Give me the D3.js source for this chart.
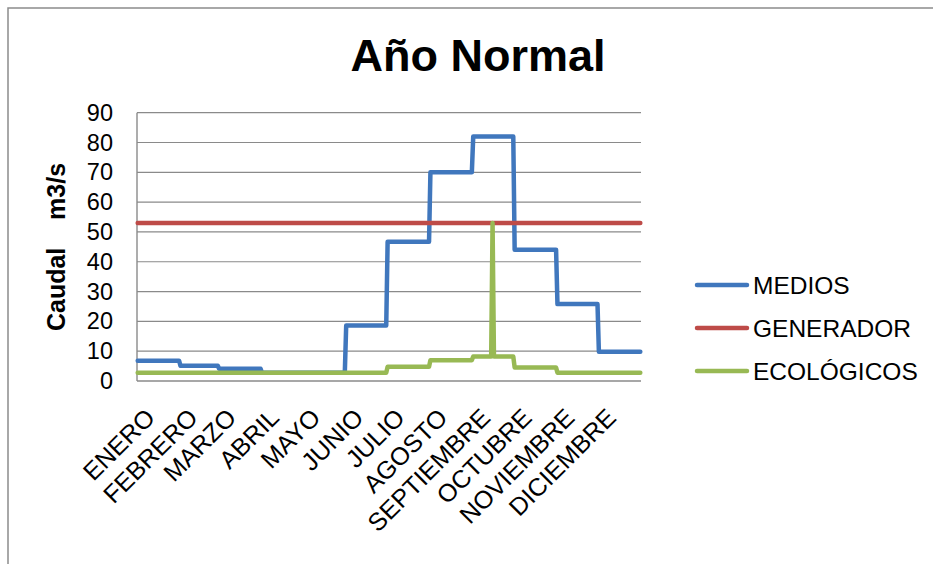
<!DOCTYPE html>
<html>
<head>
<meta charset="utf-8">
<script src="https://cdn.jsdelivr.net/npm/d3@7/dist/d3.min.js"></script>
<style>
  html, body { margin: 0; padding: 0; background: #fff; }
  svg { display: block; font-family: "Liberation Sans", Arial, sans-serif; }
</style>
</head>
<body>
<svg id="chart" width="933" height="564"></svg>
<script>
// Caudales diarios de un año normal (m3/s), agrupados por mes
const meses = ["ENERO", "FEBRERO", "MARZO", "ABRIL", "MAYO", "JUNIO", "JULIO",
  "AGOSTO", "SEPTIEMBRE", "OCTUBRE", "NOVIEMBRE", "DICIEMBRE"];
const diasPorMes = [31, 28, 31, 30, 31, 30, 31, 31, 30, 31, 30, 31];
const caudalMedios = [6.8, 5.1, 4.1, 2.8, 2.8, 18.6, 46.7, 70.0, 82.0, 44.0, 25.8, 9.8];
const caudalGenerador = [53, 53, 53, 53, 53, 53, 53, 53, 53, 53, 53, 53];
const caudalEcologicos = [2.8, 2.8, 2.8, 2.8, 2.8, 2.8, 4.8, 7.0, 8.2, 4.5, 2.8, 2.8];
// Crecida puntual del caudal ecológico (día del año, base 0)
const pulsoEcologico = { dia: 257, caudal: 53 };
const ticksCaudal = [0, 10, 20, 30, 40, 50, 60, 70, 80, 90];

const seriesInfo = [
  { nombre: "MEDIOS", mensual: caudalMedios, color: "#4077bd" },
  { nombre: "GENERADOR", mensual: caudalGenerador, color: "#be4b48" },
  { nombre: "ECOLÓGICOS", mensual: caudalEcologicos, color: "#98b954", pulso: pulsoEcologico }
];

// Valores diarios: cada día toma el caudal de su mes
function aDiario(mensual) {
  const out = [];
  mensual.forEach((v, m) => { for (let k = 0; k < diasPorMes[m]; k++) out.push(v); });
  return out;
}
const totalDias = d3.sum(diasPorMes);
// Primer día de cada mes (base 0)
const inicioMes = diasPorMes.map((d, i) => d3.sum(diasPorMes.slice(0, i)));

const svg = d3.select("#chart");
const plotLeft = 137, plotRight = 641, plotTop = 112.7, plotBottom = 381;

// Marco del área del gráfico
svg.append("path")
  .attr("d", `M8,564 L8,8 L933,8`)
  .attr("fill", "none").attr("stroke", "#8c8c8c").attr("stroke-width", 1.5);

svg.append("text")
  .attr("x", 478).attr("y", 71)
  .attr("text-anchor", "middle")
  .attr("font-size", 45).attr("font-weight", "bold")
  .text("Año Normal");

const x = d3.scaleLinear().domain([0, totalDias]).range([plotLeft, plotRight]);
const y = d3.scaleLinear().domain([0, 90]).range([plotBottom, plotTop]);

// Líneas de división horizontales
svg.append("g").selectAll("line")
  .data(ticksCaudal.filter(t => t > 0))
  .join("line")
  .attr("x1", plotLeft).attr("x2", plotRight)
  .attr("y1", d => y(d)).attr("y2", d => y(d))
  .attr("stroke", "#8a8a8a").attr("stroke-width", 1.2);

// Ejes
svg.append("line").attr("x1", plotLeft).attr("x2", plotLeft).attr("y1", plotTop).attr("y2", plotBottom)
  .attr("stroke", "#8a8a8a").attr("stroke-width", 1.4);
svg.append("line").attr("x1", plotLeft).attr("x2", plotRight).attr("y1", plotBottom).attr("y2", plotBottom)
  .attr("stroke", "#8a8a8a").attr("stroke-width", 1.4);

const yAxis = svg.append("g")
  .attr("transform", `translate(${plotLeft},0)`)
  .call(d3.axisLeft(y).tickValues(ticksCaudal).tickSize(0).tickPadding(24));
yAxis.select(".domain").remove();
yAxis.selectAll("text").attr("font-size", 23.5).attr("fill", "#000")
  .attr("font-family", "Liberation Sans, Arial, sans-serif");

const xAxis = svg.append("g")
  .attr("transform", `translate(0,${plotBottom})`)
  .call(d3.axisBottom(x).tickValues(inicioMes.map(d => d + 0.5)).tickSize(0)
    .tickFormat((d, i) => meses[i]));
xAxis.select(".domain").remove();
xAxis.selectAll("text")
  .attr("font-size", 25).attr("fill", "#000")
  .attr("font-family", "Liberation Sans, Arial, sans-serif")
  .attr("text-anchor", "end")
  .attr("x", 0).attr("y", 0).attr("dy", "0.35em")
  .attr("transform", "translate(12,32) rotate(-45)");

svg.append("text")
  .attr("transform", "translate(65,247) rotate(-90)")
  .attr("text-anchor", "middle")
  .attr("font-size", 25).attr("font-weight", "bold")
  .style("white-space", "pre")
  .text("Caudal    m3/s");

// Series diarias
const linea = d3.line()
  .x((v, i) => x(i + 0.5))
  .y(v => y(v));

seriesInfo.forEach(s => {
  const diario = aDiario(s.mensual);
  if (s.pulso) diario[s.pulso.dia] = s.pulso.caudal;
  svg.append("path")
    .datum(diario)
    .attr("d", linea)
    .attr("fill", "none")
    .attr("stroke", s.color)
    .attr("stroke-width", 4.5)
    .attr("stroke-linejoin", "round")
    .attr("stroke-linecap", "round");
});

// Leyenda
const legendY = [285, 328, 371];
const leyenda = svg.append("g").selectAll("g")
  .data(seriesInfo)
  .join("g")
  .attr("transform", (d, i) => `translate(697,${legendY[i]})`);
leyenda.append("line")
  .attr("x1", 0).attr("x2", 50)
  .attr("stroke", d => d.color).attr("stroke-width", 4.5)
  .attr("stroke-linecap", "round");
leyenda.append("text")
  .attr("x", 56).attr("dy", "0.35em")
  .attr("font-size", 24.5)
  .text(d => d.nombre);
</script>
</body>
</html>
